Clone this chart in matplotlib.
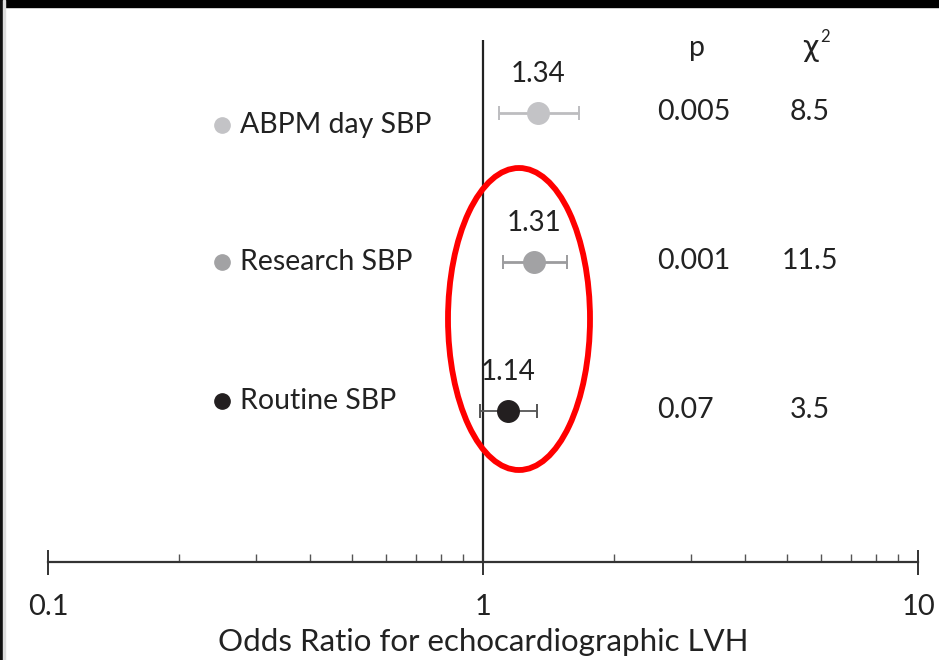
import numpy as np
import matplotlib
matplotlib.use("Agg")
import matplotlib.pyplot as plt
import matplotlib.transforms as mtransforms
from matplotlib.patches import Ellipse, Rectangle
from matplotlib.ticker import LogLocator, NullFormatter, FixedLocator, FixedFormatter

plt.rcParams['font.family'] = ['Lato', 'DejaVu Sans']

labels = ["ABPM day SBP", "Research SBP", "Routine SBP"]
odds = [1.34, 1.31, 1.14]
ci_low = [1.09, 1.11, 0.985]
ci_high = [1.66, 1.56, 1.33]
p_vals = ["0.005", "0.001", "0.07"]
chi2 = ["8.5", "11.5", "3.5"]
colors = ["#c3c3c6", "#a2a2a4", "#231f20"]
bar_colors = ["#bdbdc0", "#9c9c9e", "#555555"]
bar_widths = [2.0, 2.0, 1.3]
label_shift = [0.08, 0.0, -0.07]
rows = np.arange(len(labels))

fig = plt.figure(figsize=(9.39, 6.6), dpi=100)
W, H = 939, 660
# axes: x from 0.1 (px 48) to 10 (px 918); from px 40 down to axis line px 562
ax = fig.add_axes([48 / W, (H - 562) / H, 870 / W, 522 / H])
ax.set_xscale("log")
ax.set_xlim(0.1, 10)
ax.set_ylim(3.01, -0.49)

for s in ["top", "right", "left"]:
    ax.spines[s].set_visible(False)
ax.spines["bottom"].set_color("#333333")
ax.spines["bottom"].set_linewidth(1.6)
ax.set_yticks([])

ax.xaxis.set_major_locator(FixedLocator([0.1, 1, 10]))
ax.xaxis.set_major_formatter(FixedFormatter(["0.1", "1", "10"]))
ax.xaxis.set_minor_locator(LogLocator(base=10, subs=np.arange(2, 10)))
ax.xaxis.set_minor_formatter(NullFormatter())
ax.tick_params(axis="x", which="major", direction="inout", length=18, width=1.4,
               color="#333333", labelsize=21, pad=14, labelcolor="#222222")
ax.tick_params(axis="x", which="minor", direction="in", length=6, width=1.0,
               color="#555555")

ax.axvline(1, color="#222222", lw=1.6, zorder=1)

for i in rows:
    ax.errorbar(odds[i], i, xerr=[[odds[i] - ci_low[i]], [ci_high[i] - odds[i]]],
                fmt="none", ecolor=bar_colors[i], elinewidth=bar_widths[i],
                capsize=5, capthick=1.4, zorder=2)
    ax.plot(odds[i], i, "o", color=colors[i], ms=15.5, zorder=3)
    ax.annotate(f"{odds[i]:.2f}", (odds[i], i), xytext=(0, 28),
                textcoords="offset points", ha="center", va="center",
                fontsize=20, color="#222222")

blend = mtransforms.blended_transform_factory(ax.transAxes, ax.transData)
for i in rows:
    ax.plot(0.2, i + label_shift[i], "o", color=colors[i], ms=11,
            transform=blend, clip_on=False)
    ax.text(0.2207, i + label_shift[i], labels[i], transform=blend, ha="left",
            va="center", fontsize=20.5, color="#222222")
    ax.text(0.7, i - 0.01, p_vals[i], transform=blend, ha="left", va="center",
            fontsize=20.5, color="#222222")
    ax.text(0.876, i - 0.01, chi2[i], transform=blend, ha="center", va="center",
            fontsize=20.5, color="#222222")

blend_h = mtransforms.blended_transform_factory(ax.transAxes, ax.transAxes)
ax.text(0.746, 0.985, "p", transform=blend_h, ha="center", va="center",
        fontsize=20.5, color="#222222")
ax.text(0.876, 0.985, "\u03c7", transform=blend_h, ha="center", va="center",
        fontsize=20.5, color="#222222", family=["DejaVu Sans"])
ax.text(0.888, 1.005, "2", transform=blend_h, ha="left", va="center",
        fontsize=12, color="#222222")

ax.set_xlabel("Odds Ratio for echocardiographic LVH", fontsize=22.5,
              color="#222222", labelpad=6)

# hand-drawn red ellipse highlighting the estimates
fig.patches.append(Ellipse((519 / W, 1 - 319 / H), 142 / W, 302 / H,
                           transform=fig.transFigure, fill=False,
                           edgecolor="#ff0000", lw=4.2, zorder=5))
# screenshot frame
fig.patches.append(Rectangle((0, 1 - 7 / H), 1, 7 / H, transform=fig.transFigure,
                             color="black", zorder=6))
fig.patches.append(Rectangle((0, 0), 3 / W, 1, transform=fig.transFigure,
                             color="#111111", zorder=6))
fig.patches.append(Rectangle((3 / W, 0), 2 / W, 1, transform=fig.transFigure,
                             color="#dddddd", zorder=6))

fig.savefig("out.png", dpi=100)
